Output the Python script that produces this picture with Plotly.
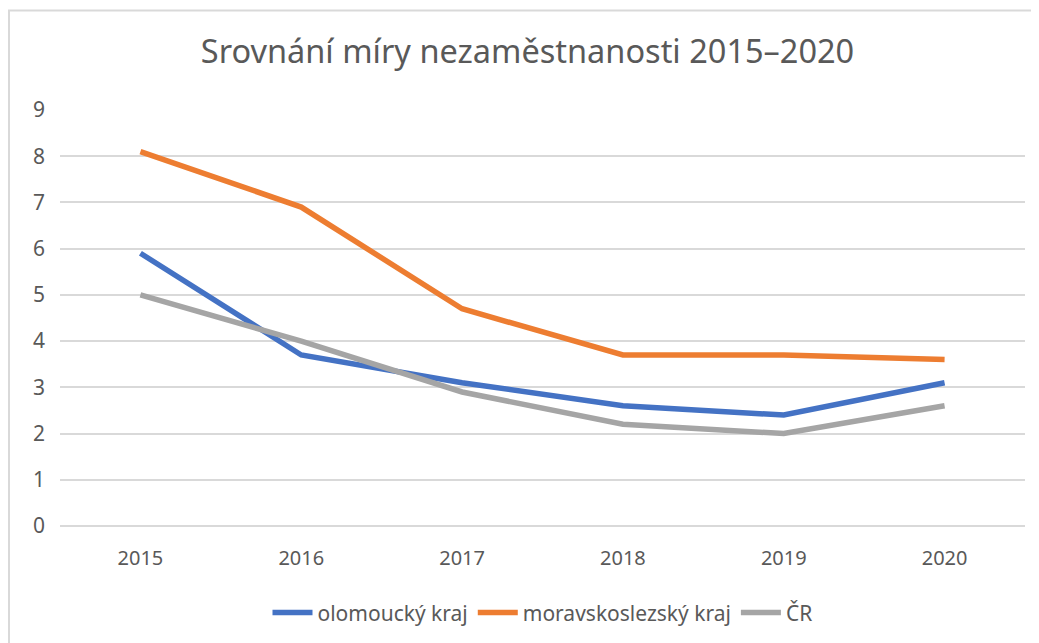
import plotly.graph_objects as go

years = ["2015", "2016", "2017", "2018", "2019", "2020"]
olomoucky = [5.9, 3.7, 3.1, 2.6, 2.4, 3.1]
moravskoslezsky = [8.1, 6.9, 4.7, 3.7, 3.7, 3.6]
cr = [5.0, 4.0, 2.9, 2.2, 2.0, 2.6]

font_family = "Noto Sans, sans-serif"

fig = go.Figure()
fig.add_trace(go.Scatter(x=years, y=olomoucky, mode="lines", name="olomoucký kraj",
                         line=dict(color="#4472C4", width=5.5)))
fig.add_trace(go.Scatter(x=years, y=moravskoslezsky, mode="lines", name="moravskoslezský kraj",
                         line=dict(color="#ED7D31", width=5.5)))
fig.add_trace(go.Scatter(x=years, y=cr, mode="lines", name="ČR",
                         line=dict(color="#A5A5A5", width=5.5)))

fig.update_layout(
    width=1039, height=643,
    margin=dict(l=52, r=22, t=102, b=125),
    paper_bgcolor="white", plot_bgcolor="white",
    font=dict(family=font_family, color="#595959", size=20),
    title=dict(text="Srovnání míry nezaměstnanosti 2015–2020",
               x=0.5, xanchor="center", y=0.932, yanchor="middle",
               font=dict(size=32.5, color="#595959")),
    legend=dict(orientation="h", x=0.5, xanchor="center", y=-0.209, yanchor="middle",
                font=dict(size=21, color="#595959"), itemwidth=40,
                tracegroupgap=0),
    showlegend=True,
)
fig.update_xaxes(type="category", range=[-0.5, 5.5], showgrid=False, showline=False,
                 ticks="", ticklabelstandoff=18, tickfont=dict(size=20, color="#595959"))
fig.update_yaxes(range=[0, 9], dtick=1, showgrid=True, gridcolor="#D9D9D9", gridwidth=1.5,
                 zeroline=True, zerolinecolor="#D9D9D9", zerolinewidth=1.5,
                 showline=False, ticks="", ticklabelstandoff=14,
                 tickfont=dict(size=21, color="#595959"))
# chart frame (top and left edges visible, the rest runs off the page)
fig.add_shape(type="rect", xref="paper", yref="paper",
              x0=(1 - 52) / 965, x1=1.05, y0=-0.35, y1=(518 - 2.5) / 416,
              line=dict(color="#D9D9D9", width=2), layer="below")

fig.write_html("out.html")
